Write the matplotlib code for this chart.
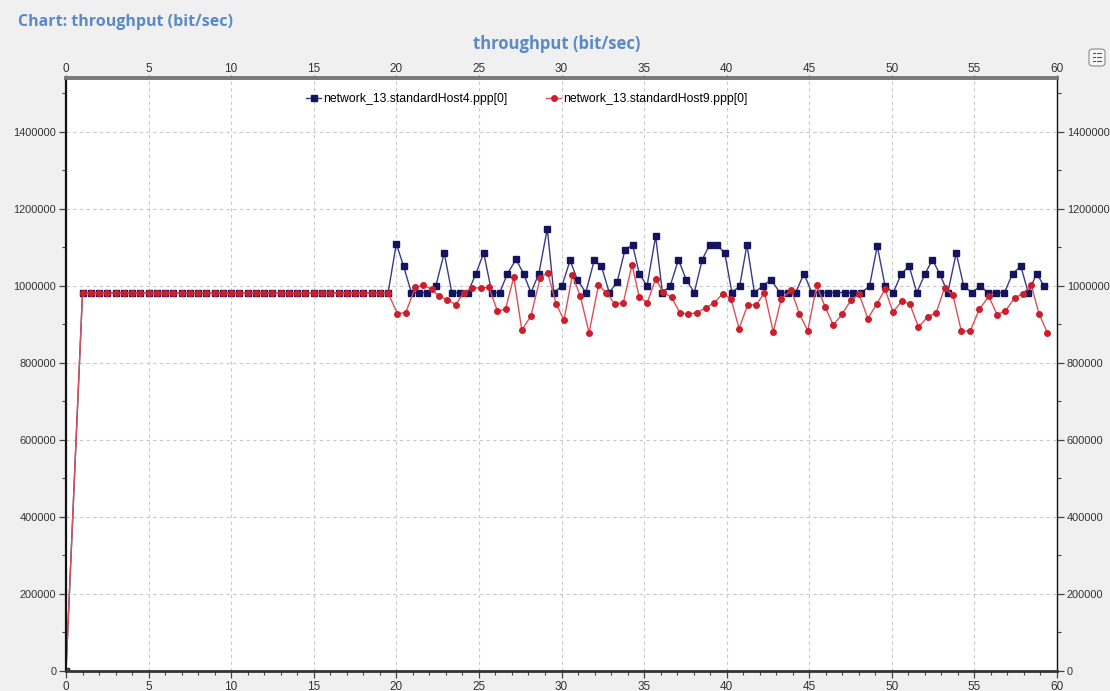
"""Throughput chart for two PPP interfaces (bit/sec over simulation time)."""
import matplotlib

matplotlib.use("Agg")
import matplotlib.pyplot as plt
from matplotlib.patches import FancyBboxPatch
from matplotlib.lines import Line2D
from matplotlib.ticker import FixedLocator, MultipleLocator

# ramp-up: origin sample, then a constant plateau shared by both hosts
START_T = [0.0]
START_V = [0]
FLAT_T = [1.0, 1.5, 2.0, 2.5, 3.0, 3.5, 4.0, 4.5, 5.0, 5.5, 6.0, 6.5, 7.0,
          7.5, 8.0, 8.5, 9.0, 9.5, 10.0, 10.5, 11.0, 11.5, 12.0, 12.5, 13.0,
          13.5, 14.0, 14.5, 15.0, 15.5, 16.0, 16.5, 17.0, 17.5, 18.0, 18.5,
          19.0, 19.5]
FLAT_V = [982000] * len(FLAT_T)

# standardHost4.ppp[0]
HOST4_T = [20.00, 20.44, 20.91, 21.40, 21.88, 22.39, 22.90, 23.36, 23.85,
           24.33, 24.82, 25.29, 25.78, 26.26, 26.73, 27.25, 27.70, 28.15,
           28.63, 29.14, 29.53, 30.03, 30.52, 30.96, 31.47, 31.98, 32.42,
           32.89, 33.37, 33.84, 34.30, 34.71, 35.18, 35.70, 36.11, 36.58,
           37.08, 37.55, 38.04, 38.52, 38.97, 39.41, 39.88, 40.32, 40.79,
           41.23, 41.68, 42.19, 42.69, 43.22, 43.71, 44.18, 44.68, 45.15,
           45.65, 46.14, 46.64, 47.16, 47.64, 48.16, 48.65, 49.12, 49.59,
           50.09, 50.58, 51.05, 51.51, 52.02, 52.46, 52.89, 53.39, 53.90,
           54.35, 54.85, 55.36, 55.81, 56.31, 56.82, 57.31, 57.81, 58.26,
           58.77, 59.21]
HOST4_V = [1109800, 1051000, 982700, 982700, 982700, 1000000, 1085600,
           982700, 982700, 982700, 1032000, 1085600, 982700, 982700, 1032000,
           1069000, 1032000, 982700, 1032000, 1148700, 982700, 1000000,
           1066600, 1016400, 982700, 1066600, 1051000, 982700, 1010400,
           1093400, 1107200, 1032000, 1000000, 1128800, 982700, 1000000,
           1068300, 1016400, 982700, 1068300, 1107200, 1107200, 1085600,
           982700, 1000000, 1107200, 982700, 1000000, 1016400, 982700,
           982700, 982700, 1032000, 982700, 982700, 982700, 982700, 982700,
           982700, 982700, 1000000, 1103800, 1000000, 982700, 1032000,
           1051000, 982700, 1032000, 1068300, 1032000, 982700, 1085600,
           1000000, 982700, 1000000, 982700, 982700, 982700, 1032000,
           1051000, 982700, 1032000, 1000000]

# standardHost9.ppp[0]
HOST9_T = [20.06, 20.57, 21.16, 21.64, 22.13, 22.60, 23.08, 23.59, 24.09,
           24.60, 25.11, 25.59, 26.12, 26.61, 27.11, 27.60, 28.15, 28.71,
           29.16, 29.67, 30.15, 30.66, 31.14, 31.67, 32.24, 32.72, 33.21,
           33.74, 34.27, 34.71, 35.20, 35.70, 36.13, 36.66, 37.16, 37.67,
           38.19, 38.72, 39.25, 39.76, 40.26, 40.75, 41.28, 41.78, 42.29,
           42.82, 43.30, 43.91, 44.40, 44.91, 45.45, 45.96, 46.46, 47.01,
           47.52, 48.02, 48.55, 49.10, 49.59, 50.07, 50.60, 51.08, 51.61,
           52.18, 52.69, 53.19, 53.70, 54.21, 54.75, 55.30, 55.87, 56.37,
           56.88, 57.43, 57.95, 58.44, 58.91, 59.41]
HOST9_V = [928200, 930800, 997400, 1001700, 991400, 973200, 964500, 951500,
           982700, 994800, 994800, 997400, 935100, 939500, 1023300, 885000,
           922200, 1020800, 1034600, 954200, 911000, 1027700, 973200, 878900,
           1001700, 982700, 954200, 955900, 1055300, 970600, 956800, 1019000,
           984400, 970600, 930800, 926500, 930800, 942900, 955900, 980100,
           967100, 889300, 951600, 949800, 982700, 880700, 965400, 988800,
           928200, 883300, 1001700, 945500, 898000, 928200, 962800, 978400,
           915300, 954200, 991400, 932600, 960200, 954200, 893600, 919600,
           930800, 994800, 975800, 882400, 883300, 939500, 973200, 925600,
           935100, 968900, 980100, 1001700, 928200, 878900]

X_MAJOR = [0, 5, 10, 15, 20, 25, 30, 35, 40, 45, 50, 55, 60]

SERIES = [
    ("network_13.standardHost4.ppp[0]", HOST4_T, HOST4_V, "s", "#3a3a88", "#14145e"),
    ("network_13.standardHost9.ppp[0]", HOST9_T, HOST9_V, "o", "#dc5058", "#cc1f2c"),
]

TITLE_BLUE = "#5a8ac6"

plt.rcParams["font.family"] = ["Liberation Sans", "DejaVu Sans"]

fig = plt.figure(figsize=(11.1, 6.91), dpi=100, facecolor="#f0f0f0")
ax = fig.add_axes([66 / 1110, 1 - 671 / 691, (1057 - 66) / 1110, (671 - 78) / 691])
ax.set_facecolor("white")

for label, ts, vs, marker, lc, mc in SERIES:
    t = START_T + FLAT_T + ts
    v = START_V + FLAT_V + vs
    ax.plot(t, v, color=lc, lw=1.0, marker=marker, markersize=4.0,
            markerfacecolor=mc, markeredgecolor=mc, label=label)

ax.set_xlim(0, 60)
ax.set_ylim(0, 1540000)
ax.xaxis.set_major_locator(FixedLocator(X_MAJOR))
ax.xaxis.set_minor_locator(MultipleLocator(1))
ax.yaxis.set_major_locator(MultipleLocator(200000))
ax.yaxis.set_minor_locator(MultipleLocator(100000))
ax.ticklabel_format(axis="y", style="plain", useOffset=False)

ax.grid(True, which="major", color="#c8c8c8", ls=(0, (3, 3)), lw=0.8)
ax.tick_params(which="both", direction="out", colors="#444444", labelsize=8.5,
               top=False, right=True, labelright=True, labelcolor="#333333")
ax.tick_params(axis="y", labelsize=7.9)
ax.tick_params(which="major", length=5, width=0.9, pad=2)
ax.tick_params(which="minor", length=3, width=0.8)

# time axis repeated along the top edge, sitting closer to the frame
top = ax.secondary_xaxis("top")
top.xaxis.set_major_locator(FixedLocator(X_MAJOR))
top.xaxis.set_minor_locator(FixedLocator(list(range(1, 60))))
top.tick_params(which="both", direction="out", colors="#555555", labelsize=8.5,
                labelcolor="#333333")
top.tick_params(which="major", length=2, width=0.9, pad=0.5)
top.tick_params(which="minor", length=1.5, width=0.8)
top.spines["top"].set_color("#7a7a7a")
top.spines["top"].set_linewidth(2.6)

for side, col, lw in [("left", "#111111", 1.6), ("bottom", "#333333", 2.0),
                      ("top", "#7a7a7a", 2.6), ("right", "#111111", 1.0)]:
    ax.spines[side].set_color(col)
    ax.spines[side].set_linewidth(lw)

handles = [Line2D([], [], color=lc, lw=1.0, marker=m, markersize=4.0,
                  markerfacecolor=mc, markeredgecolor=mc)
           for _, _, _, m, lc, mc in SERIES]
ax.legend(handles, [s[0] for s in SERIES], loc="upper center",
          bbox_to_anchor=(0.465, 0.993), ncol=2, frameon=False, fontsize=8.8,
          handlelength=1.2, handletextpad=0.15, columnspacing=3.2)

fig.text(18 / 1110, 1 - 22 / 691, "Chart: throughput (bit/sec)", color=TITLE_BLUE,
         fontsize=11.5, fontweight="bold", family=["Open Sans", "DejaVu Sans"],
         ha="left", va="center")
fig.text(557 / 1110, 1 - 44 / 691, "throughput (bit/sec)", color=TITLE_BLUE,
         fontsize=12, fontweight="bold", family=["Open Sans", "DejaVu Sans"],
         ha="center", va="center")

# small chart-options button in the top right corner
btn = FancyBboxPatch((1089 / 1110, 1 - 66 / 691), 16 / 1110, 17 / 691,
                     boxstyle="round,pad=0,rounding_size=0.004",
                     transform=fig.transFigure, facecolor="#f7f7f7",
                     edgecolor="#8a8a8a", lw=0.8)
fig.add_artist(btn)
for yy in (53, 57, 61):
    fig.add_artist(Line2D([1093 / 1110, 1095 / 1110], [1 - yy / 691] * 2,
                          transform=fig.transFigure, color="#555555", lw=0.8))
    fig.add_artist(Line2D([1096.5 / 1110, 1101 / 1110], [1 - yy / 691] * 2,
                          transform=fig.transFigure, color="#555555", lw=0.8))

fig.savefig("out.png", dpi=100, facecolor=fig.get_facecolor())
